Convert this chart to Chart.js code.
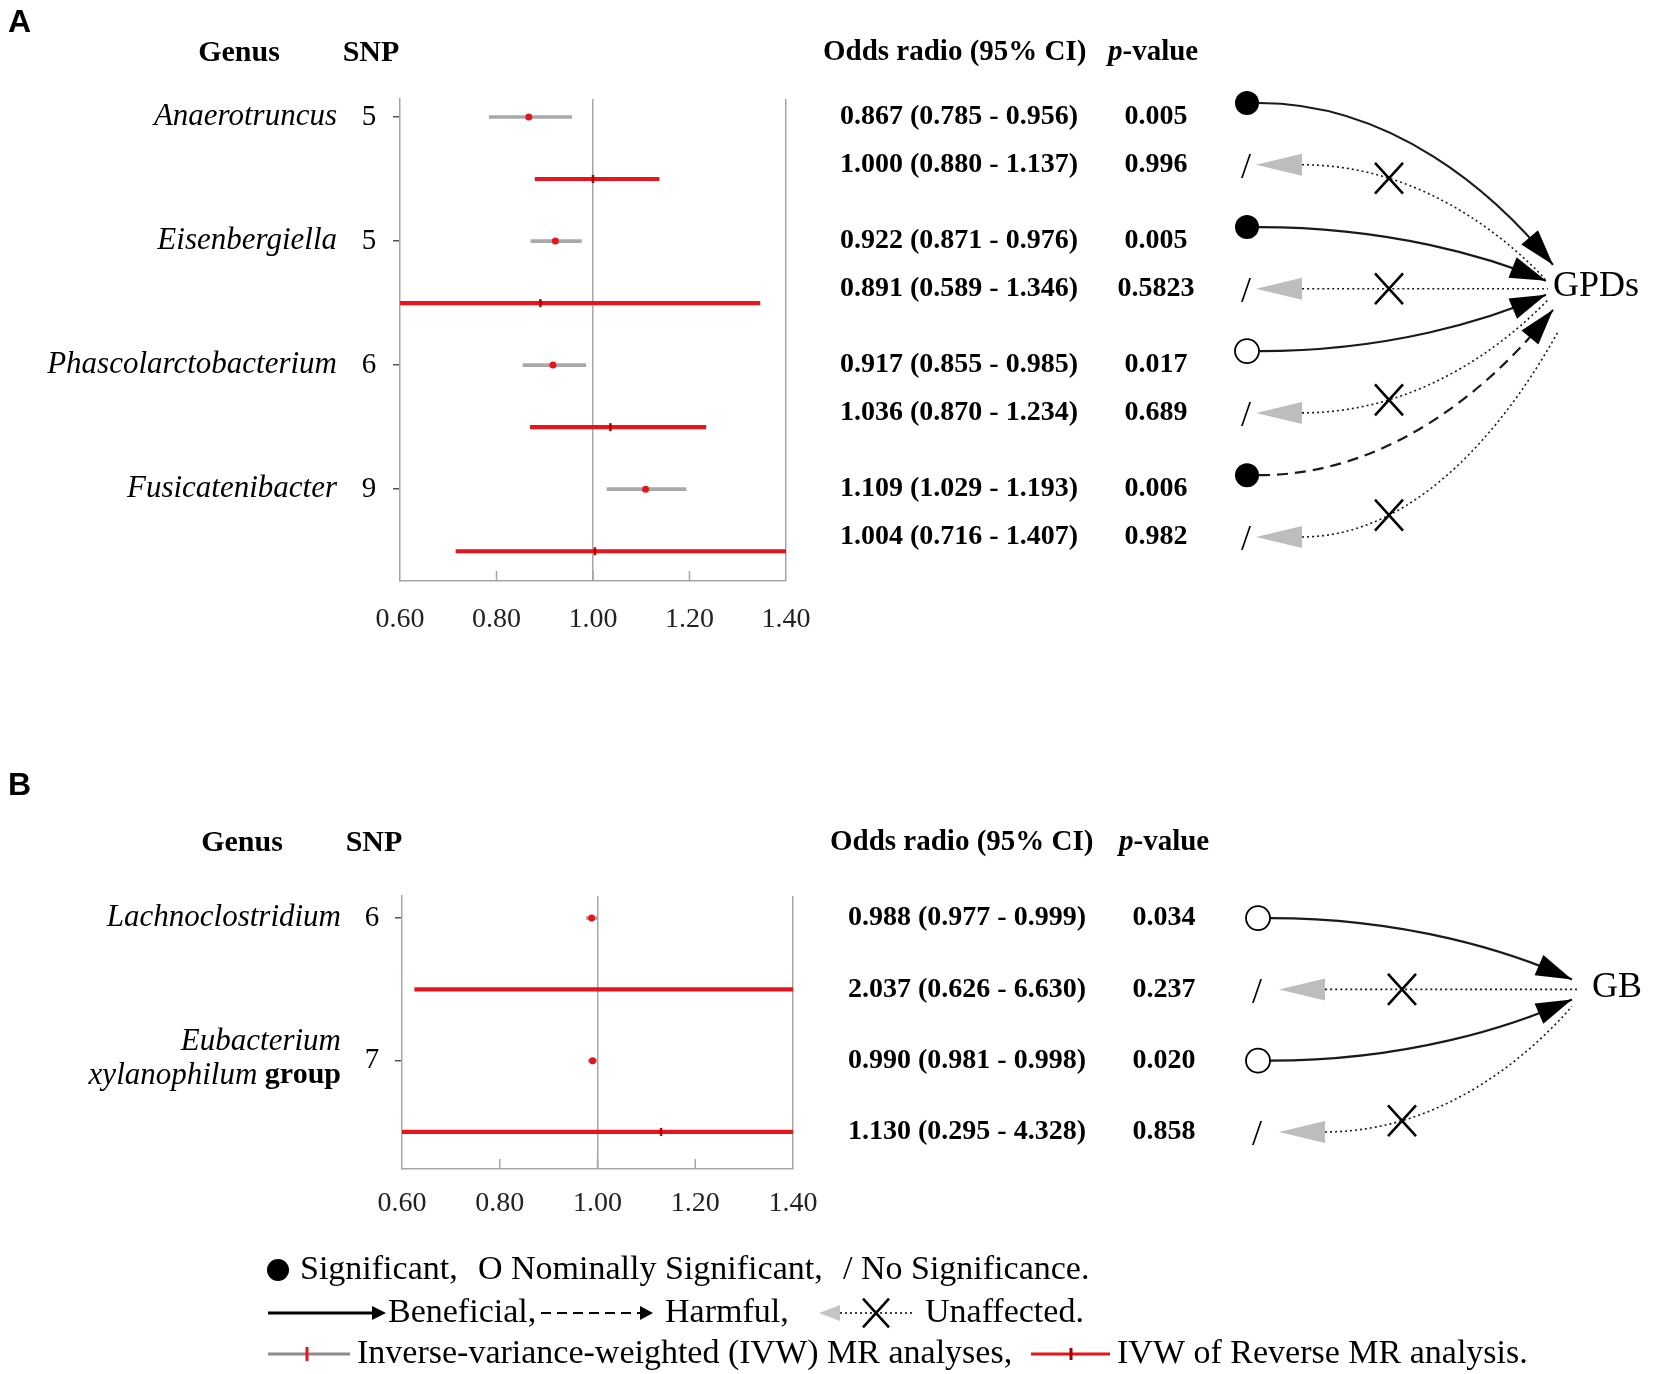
<!DOCTYPE html>
<html>
<head>
<meta charset="utf-8">
<script src="https://cdn.jsdelivr.net/npm/chart.js@4.4.0/dist/chart.umd.min.js"></script>
<style>
body { margin: 0; background: #fff; }
canvas { position: absolute; left: 0; }
</style>
</head>
<body>
<canvas id="panelA" width="1654" height="700" style="top:0"></canvas>
<canvas id="panelB" width="1654" height="674" style="top:700px"></canvas>
<script>
const xTicks = [0.6, 0.8, 1.0, 1.2, 1.4];

// A: genus -> GPDs
const genusA = ['Anaerotruncus', 'Eisenbergiella', 'Phascolarctobacterium', 'Fusicatenibacter'];
const snpA = [5, 5, 6, 9];
const orA = [0.867, 0.922, 0.917, 1.109];
const loA = [0.785, 0.871, 0.855, 1.029];
const hiA = [0.956, 0.976, 0.985, 1.193];
const pA = ['0.005', '0.005', '0.017', '0.006'];
const sigA = ['sig', 'sig', 'nominal', 'sig'];
const effectA = ['beneficial', 'beneficial', 'beneficial', 'harmful'];
const revOrA = [1.000, 0.891, 1.036, 1.004];
const revLoA = [0.880, 0.589, 0.870, 0.716];
const revHiA = [1.137, 1.346, 1.234, 1.407];
const revPA = ['0.996', '0.5823', '0.689', '0.982'];

// B: genus -> GB
const genusB = ['Lachnoclostridium', 'Eubacterium xylanophilum group'];
const snpB = [6, 7];
const orB = [0.988, 0.990];
const loB = [0.977, 0.981];
const hiB = [0.999, 0.998];
const pB = ['0.034', '0.020'];
const sigB = ['nominal', 'nominal'];
const effectB = ['beneficial', 'beneficial'];
const revOrB = [2.037, 1.130];
const revLoB = [0.626, 0.295];
const revHiB = [6.630, 4.328];
const revPB = ['0.237', '0.858'];

const SERIF = '"Liberation Serif", "Times New Roman", serif';
const GREY = '#a9a9a9';
const RED = '#e8141b';
const AXIS = '#a6a6a6';

function bez(S, c1, c2, E, t) {
    const u = 1 - t;
    return {
        x: u * u * u * S.x + 3 * u * u * t * c1.x + 3 * u * t * t * c2.x + t * t * t * E.x,
        y: u * u * u * S.y + 3 * u * u * t * c1.y + 3 * u * t * t * c2.y + t * t * t * E.y
    };
}

function arrowHead(ctx, tip, from, len, half, color) {
    const dx = tip.x - from.x, dy = tip.y - from.y;
    const d = Math.hypot(dx, dy) || 1;
    const ux = dx / d, uy = dy / d;
    const bx = tip.x - ux * len, by = tip.y - uy * len;
    ctx.save();
    ctx.setLineDash([]);
    ctx.fillStyle = color;
    ctx.beginPath();
    ctx.moveTo(tip.x, tip.y);
    ctx.lineTo(bx - uy * half, by + ux * half);
    ctx.lineTo(bx + uy * half, by - ux * half);
    ctx.closePath();
    ctx.fill();
    ctx.restore();
}

function cross(ctx, x, y, s) {
    ctx.save();
    ctx.setLineDash([]);
    ctx.strokeStyle = '#000';
    ctx.lineWidth = 2.6;
    ctx.beginPath();
    ctx.moveTo(x - s, y - s * 1.1); ctx.lineTo(x + s, y + s * 1.1);
    ctx.moveTo(x + s, y - s * 1.1); ctx.lineTo(x - s, y + s * 1.1);
    ctx.stroke();
    ctx.restore();
}

function link(ctx, S, E, style, crossX) {
    const c1 = { x: S.x + (E.x - S.x) * 0.45, y: S.y };
    const c2 = { x: E.x - (E.x - S.x) * 0.2, y: E.y + (S.y - E.y) * 0.45 };
    ctx.save();
    ctx.strokeStyle = '#1a1a1a';
    if (style === 'dotted') { ctx.setLineDash([2, 3]); ctx.lineWidth = 1.6; }
    else if (style === 'dashed') { ctx.setLineDash([11, 7]); ctx.lineWidth = 2.2; }
    else { ctx.lineWidth = 2.2; }
    ctx.beginPath();
    ctx.moveTo(S.x, S.y);
    ctx.bezierCurveTo(c1.x, c1.y, c2.x, c2.y, E.x, E.y);
    ctx.stroke();
    ctx.restore();
    if (style === 'dotted') {
        let a = 0, b = 1;
        for (let k = 0; k < 30; k++) {
            const m = (a + b) / 2;
            if (bez(S, c1, c2, E, m).x < crossX) a = m; else b = m;
        }
        const p = bez(S, c1, c2, E, a);
        cross(ctx, p.x, p.y, 14);
    } else {
        arrowHead(ctx, E, bez(S, c1, c2, E, 0.9), 36, 11, '#000');
    }
}

function annotate(d, geo) {
    return {
        id: 'annot',
        afterDraw(chart) {
            const ctx = chart.ctx;
            const ys = chart.scales.y, xs = chart.scales.x;
            const area = chart.chartArea;
            const rowY = r => ys.getPixelForValue(r);
            ctx.save();

            // short inner ticks on the x axis
            ctx.strokeStyle = AXIS; ctx.lineWidth = 1.5;
            xTicks.slice(1, -1).forEach(v => {
                const px = xs.getPixelForValue(v);
                ctx.beginPath(); ctx.moveTo(px, area.bottom); ctx.lineTo(px, area.bottom - 10); ctx.stroke();
            });

            ctx.fillStyle = '#000';
            ctx.textBaseline = 'alphabetic'; ctx.textAlign = 'left';
            ctx.font = 'bold 32px "Liberation Sans", Arial, sans-serif';
            ctx.fillText(geo.letter, 8, geo.letterY);

            // headers
            ctx.textBaseline = 'middle';
            ctx.font = 'bold 30px ' + SERIF;
            ctx.textAlign = 'center';
            ctx.fillText('Genus', geo.genusHdrX, geo.headerY);
            ctx.fillText('SNP', geo.snpHdrX, geo.headerY);
            ctx.textAlign = 'left';
            ctx.font = 'bold 29px ' + SERIF;
            ctx.fillText('Odds radio (95% CI)', geo.oddsHdrX, geo.headerY);
            ctx.font = 'bold italic 29px ' + SERIF;
            ctx.fillText('p', geo.pHdrX, geo.headerY);
            const pw = ctx.measureText('p').width;
            ctx.font = 'bold 29px ' + SERIF;
            ctx.fillText('-value', geo.pHdrX + pw, geo.headerY);

            // genus names and SNP counts
            d.genus.forEach((g, i) => {
                const y = rowY(2 * i);
                const words = g.split(' ');
                ctx.textAlign = 'right';
                if (words.length > 2) {
                    ctx.font = 'italic 31px ' + SERIF;
                    ctx.fillText(words[0], geo.genusRight, y - 19);
                    ctx.font = 'bold 30px ' + SERIF;
                    const tail = ' ' + words.slice(2).join(' ');
                    ctx.fillText(tail, geo.genusRight, y + 15);
                    const tw = ctx.measureText(tail).width;
                    ctx.font = 'italic 31px ' + SERIF;
                    ctx.fillText(words[1], geo.genusRight - tw, y + 15);
                } else {
                    ctx.font = 'italic 31px ' + SERIF;
                    ctx.fillText(g, geo.genusRight, y);
                }
                ctx.textAlign = 'center';
                ctx.font = '29px ' + SERIF;
                ctx.fillText(String(d.snp[i]), geo.snpX, y);
            });

            // odds ratio / p-value table and the direction diagram
            const rows = [];
            d.genus.forEach((g, i) => {
                rows.push({ or: d.or[i], lo: d.lo[i], hi: d.hi[i], p: d.p[i], sig: d.sig[i], eff: d.effect[i] });
                rows.push({ or: d.revOr[i], lo: d.revLo[i], hi: d.revHi[i], p: d.revP[i], sig: 'none' });
            });
            rows.forEach((r, k) => {
                const y = rowY(geo.textRows[k]);
                ctx.font = 'bold 28px ' + SERIF;
                ctx.textAlign = 'left';
                ctx.fillStyle = '#000';
                ctx.fillText(r.or.toFixed(3) + ' (' + r.lo.toFixed(3) + ' - ' + r.hi.toFixed(3) + ')', geo.oddsLeft, y);
                ctx.textAlign = 'center';
                ctx.fillText(r.p, geo.pX, y);

                const ty = rowY(geo.textRows[geo.targetRow]);
                const E = { x: geo.ends[k][0], y: ty + geo.ends[k][1] };
                if (r.sig === 'none') {
                    ctx.font = '36px ' + SERIF;
                    ctx.fillStyle = '#000';
                    ctx.fillText('/', geo.slashX, y + 4);
                    ctx.fillStyle = '#bdbdbd';
                    ctx.beginPath();
                    ctx.moveTo(geo.greyTip, y);
                    ctx.lineTo(geo.greyBase, y - 11);
                    ctx.lineTo(geo.greyBase, y + 11);
                    ctx.closePath();
                    ctx.fill();
                    link(ctx, { x: geo.greyBase, y: y }, E, 'dotted', geo.crossX);
                } else {
                    const cy = y + geo.circleDy;
                    link(ctx, { x: geo.circleX + 12, y: cy }, E, r.eff === 'harmful' ? 'dashed' : 'solid', 0);
                    ctx.beginPath();
                    ctx.arc(geo.circleX, cy, 12, 0, Math.PI * 2);
                    if (r.sig === 'sig') { ctx.fillStyle = '#000'; ctx.fill(); }
                    else { ctx.fillStyle = '#fff'; ctx.fill(); ctx.strokeStyle = '#000'; ctx.lineWidth = 1.8; ctx.setLineDash([]); ctx.stroke(); }
                }
            });
            ctx.fillStyle = '#000';
            ctx.textAlign = 'left';
            ctx.font = '36px ' + SERIF;
            ctx.fillText(geo.target, geo.targetX, rowY(geo.textRows[geo.targetRow]) - 2);

            if (geo.legend) drawLegend(ctx);
            ctx.restore();
        }
    };
}

function drawLegend(ctx) {
    const y1 = 570, y2 = 613, y3 = 654;
    ctx.fillStyle = '#000';
    ctx.textAlign = 'left';
    ctx.textBaseline = 'middle';
    ctx.font = '34px ' + SERIF;

    ctx.beginPath(); ctx.arc(278, y1, 11, 0, Math.PI * 2); ctx.fill();
    ctx.fillText('Significant,', 300, y1);
    ctx.fillText('O Nominally Significant,', 478, y1);
    ctx.fillText('/ No Significance.', 843, y1);

    ctx.strokeStyle = '#000';
    ctx.lineWidth = 3;
    ctx.beginPath(); ctx.moveTo(268, y2); ctx.lineTo(374, y2); ctx.stroke();
    arrowHead(ctx, { x: 386, y: y2 }, { x: 300, y: y2 }, 14, 7, '#000');
    ctx.fillText('Beneficial,', 388, y2);
    ctx.setLineDash([10, 6]);
    ctx.lineWidth = 2.2;
    ctx.beginPath(); ctx.moveTo(541, y2); ctx.lineTo(643, y2); ctx.stroke();
    ctx.setLineDash([]);
    arrowHead(ctx, { x: 653, y: y2 }, { x: 600, y: y2 }, 13, 7, '#000');
    ctx.fillText('Harmful,', 665, y2);
    ctx.fillStyle = '#c4c4c4';
    ctx.beginPath(); ctx.moveTo(819, y2); ctx.lineTo(840, y2 - 8); ctx.lineTo(840, y2 + 8); ctx.closePath(); ctx.fill();
    ctx.setLineDash([2, 3]);
    ctx.lineWidth = 1.6;
    ctx.beginPath(); ctx.moveTo(840, y2); ctx.lineTo(914, y2); ctx.stroke();
    ctx.setLineDash([]);
    cross(ctx, 876, y2, 13);
    ctx.fillStyle = '#000';
    ctx.fillText('Unaffected.', 925, y2);

    ctx.lineWidth = 3;
    ctx.strokeStyle = '#8c8c8c';
    ctx.beginPath(); ctx.moveTo(268, y3); ctx.lineTo(350, y3); ctx.stroke();
    ctx.strokeStyle = RED;
    ctx.beginPath(); ctx.moveTo(307, y3 - 7); ctx.lineTo(307, y3 + 7); ctx.stroke();
    ctx.fillText('Inverse-variance-weighted (IVW) MR analyses,', 357, y3);
    ctx.strokeStyle = RED;
    ctx.beginPath(); ctx.moveTo(1031, y3); ctx.lineTo(1110, y3); ctx.stroke();
    ctx.strokeStyle = '#a00000';
    ctx.beginPath(); ctx.moveTo(1071, y3 - 6); ctx.lineTo(1071, y3 + 6); ctx.stroke();
    ctx.fillText('IVW of Reverse MR analysis.', 1117, y3);
}

function buildChart(canvasId, d, geo) {
    const ivwCI = d.lo.map((v, i) => ({ x: [v, d.hi[i]], y: 2 * i }));
    const revCI = d.revLo.map((v, i) => ({ x: [v, d.revHi[i]], y: 2 * i + 1 }));
    const ivwPt = d.or.map((v, i) => ({ x: v, y: 2 * i }));
    const revPt = d.revOr.map((v, i) => ({ x: v, y: 2 * i + 1 }));
    return new Chart(document.getElementById(canvasId), {
        type: 'scatter',
        data: {
            datasets: [
                { type: 'bar', indexAxis: 'y', data: ivwCI, backgroundColor: GREY, barThickness: 3, grouped: false, order: 2 },
                { type: 'bar', indexAxis: 'y', data: revCI, backgroundColor: RED, barThickness: 3.5, grouped: false, order: 2 },
                { data: ivwPt, pointRadius: 3.5, pointBackgroundColor: RED, pointBorderColor: RED, pointBorderWidth: 0, order: 1 },
                { data: revPt, pointStyle: 'line', rotation: 90, pointRadius: 4, pointBorderColor: '#b00000', pointBorderWidth: 2.5, order: 1 }
            ]
        },
        options: {
            responsive: false,
            animation: false,
            devicePixelRatio: 1,
            layout: { padding: geo.padding },
            plugins: { legend: { display: false }, tooltip: { enabled: false } },
            scales: {
                x: {
                    type: 'linear', min: 0.6, max: 1.4, offset: false,
                    afterBuildTicks: s => { s.ticks = xTicks.map(v => ({ value: v })); },
                    afterFit: s => { s.height = 70; },
                    ticks: {
                        padding: geo.tickPad, color: '#222',
                        font: { family: SERIF, size: 28 },
                        callback: v => Number(v).toFixed(2)
                    },
                    grid: {
                        drawTicks: false, lineWidth: 1.5, offset: false,
                        color: c => (c.tick && (Math.abs(c.tick.value - 1) < 1e-6 || c.tick.value > 1.39)) ? AXIS : 'rgba(0,0,0,0)'
                    },
                    border: { color: AXIS, width: 1.5 }
                },
                y: {
                    type: 'linear', reverse: true, min: geo.yMin, max: geo.yMax, offset: false,
                    afterBuildTicks: s => { s.ticks = d.genus.map((g, i) => ({ value: 2 * i })); },
                    afterFit: s => { s.width = 0; },
                    ticks: { display: false },
                    grid: { drawOnChartArea: false, drawTicks: true, tickLength: 7, color: '#555', lineWidth: 1.5, offset: false },
                    border: { color: AXIS, width: 1.5 }
                }
            }
        },
        plugins: [annotate(d, geo)]
    });
}

buildChart('panelA', {
    genus: genusA, snp: snpA, or: orA, lo: loA, hi: hiA, p: pA, sig: sigA, effect: effectA,
    revOr: revOrA, revLo: revLoA, revHi: revHiA, revP: revPA
}, {
    padding: { left: 400, right: 868, top: 99, bottom: 49 },
    tickPad: 22, yMin: -0.29, yMax: 7.48,
    letter: 'A', letterY: 32,
    headerY: 53, genusHdrX: 239, snpHdrX: 371, oddsHdrX: 823, pHdrX: 1108,
    genusRight: 337, snpX: 369, oddsLeft: 840, pX: 1156,
    textRows: [0, 0.77, 2, 2.77, 4, 4.77, 6, 6.77],
    circleDy: -14, circleX: 1247, slashX: 1246, greyTip: 1256, greyBase: 1302, crossX: 1389,
    target: 'GPDs', targetX: 1553, targetRow: 3,
    ends: [[1553, -24], [1545, -10], [1546, -8], [1548, 0], [1546, 6], [1548, 11], [1553, 21], [1558, 43]],
    legend: false
});

buildChart('panelB', {
    genus: genusB, snp: snpB, or: orB, lo: loB, hi: hiB, p: pB, sig: sigB, effect: effectB,
    revOr: revOrB, revLo: revLoB, revHi: revHiB, revP: revPB
}, {
    padding: { left: 402, right: 861, top: 196, bottom: 135 },
    tickPad: 18, yMin: -0.31, yMax: 3.52,
    letter: 'B', letterY: 95,
    headerY: 143, genusHdrX: 242, snpHdrX: 374, oddsHdrX: 830, pHdrX: 1119,
    genusRight: 341, snpX: 372, oddsLeft: 848, pX: 1164,
    textRows: [0, 1, 2, 3],
    circleDy: 0, circleX: 1258, slashX: 1257, greyTip: 1279, greyBase: 1325, crossX: 1402,
    target: 'GB', targetX: 1592, targetRow: 1,
    ends: [[1572, -10], [1578, 0], [1572, 10], [1572, 17]],
    legend: true
});
</script>
</body>
</html>
